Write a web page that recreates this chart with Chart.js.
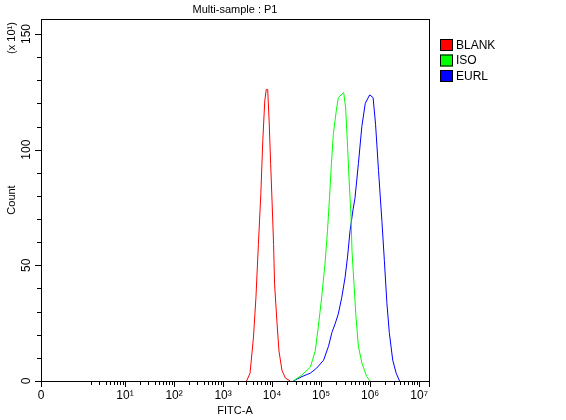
<!DOCTYPE html>
<html><head><meta charset="utf-8">
<script src="https://cdn.jsdelivr.net/npm/chart.js@4/dist/chart.umd.min.js"></script>
<style>html,body{margin:0;padding:0;background:#fff}</style>
</head><body>
<canvas id="c" width="566" height="420"></canvas>
<script>
const seriesNames = ['BLANK','ISO','EURL'];
const seriesColors = ['#ff0000','#00ff00','#0000ff'];
// x: log10(FITC-A), y: count (x10)
const blankX = [3.48,3.55,3.62,3.67,3.72,3.77,3.81,3.85,3.88,3.91,3.94,3.97,4.00,4.03,4.05,4.10,4.14,4.20,4.27,4.37];
const blankY = [0,3.4,19,36,59,81,104,121,126,126,112,94,77,59,42,25,13,4.7,1.3,0];
const isoX = [4.43,4.61,4.78,4.88,4.94,5.01,5.08,5.13,5.17,5.21,5.25,5.31,5.35,5.46,5.50,5.54,5.57,5.61,5.63,5.67,5.71,5.76,5.83,5.93,6.00];
const isoY = [0,2.6,6,13,23,36,51,65,79,94,107,117,122.5,124.7,118,101,87,71,56,42,28,15,7.8,1.9,0];
const eurlX = [4.43,4.61,4.78,4.91,5.05,5.15,5.22,5.29,5.35,5.42,5.49,5.54,5.59,5.65,5.69,5.76,5.83,5.90,5.99,6.06,6.11,6.17,6.24,6.29,6.34,6.39,6.46,6.53,6.60];
const eurlY = [0,1.9,3.4,5.6,9,15,21,25,29,36,45,54,65,74,79,94,110,120,123.7,122.5,111,91,69,52,34,21,9,3.4,0];
const xMajorValues = [-0.714,1,2,3,4,5,6,7];
const xMajorLabels = ['0','10¹','10²','10³','10⁴','10⁵','10⁶','10⁷'];
const yMajorValues = [0,50,100,150];
const yMajorLabels = ['0','50','100','150'];
const xMin = -0.714, xMax = 7.2, yMin = 0, yMax = 156.5;

const pts = (xs, ys) => xs.map((x,i)=>({x, y: ys[i]}));
const FONT = '"Liberation Sans", Arial, sans-serif';

const axesPlugin = {
  id: 'axes',
  afterDraw(chart) {
    const ctx = chart.ctx, a = chart.chartArea;
    const xs = chart.scales.x, ys = chart.scales.y;
    ctx.save();
    ctx.strokeStyle = '#000'; ctx.lineWidth = 1;
    ctx.strokeRect(Math.round(a.left)+0.5, Math.round(a.top)+0.5, Math.round(a.right-a.left), Math.round(a.bottom-a.top));
    ctx.beginPath();
    // x ticks
    const xt = (v, len) => { const p = Math.round(xs.getPixelForValue(v))+0.5; ctx.moveTo(p, a.bottom); ctx.lineTo(p, a.bottom+len); };
    xMajorValues.forEach(v => xt(v, 6));
    xt(xMax, 6);
    for (let d = 0; d <= 6; d++) for (let k = 2; k <= 9; k++) { const v = d + Math.log10(k); if (v > xMin + 0.05) xt(v, 4); }
    // y ticks
    for (let v = 0; v <= 150; v += 10) {
      const p = Math.round(ys.getPixelForValue(v))+0.5;
      ctx.moveTo(a.left, p); ctx.lineTo(a.left - (v % 50 === 0 ? 6 : 4), p);
    }
    ctx.stroke();
    ctx.fillStyle = '#000';
    ctx.font = '12px ' + FONT;
    ctx.textAlign = 'center'; ctx.textBaseline = 'top';
    xMajorValues.forEach((v,i) => ctx.fillText(xMajorLabels[i], xs.getPixelForValue(v), a.bottom + 9));
    xMajorValues.forEach((v,i) => {});
    // y labels rotated
    yMajorValues.forEach((v,i) => {
      ctx.save(); ctx.translate(a.left - 8, ys.getPixelForValue(v)); ctx.rotate(-Math.PI/2);
      ctx.textAlign = 'center'; ctx.textBaseline = 'bottom'; ctx.fillText(yMajorLabels[i], 0, 0); ctx.restore();
    });
    ctx.font = '11px ' + FONT;
    ctx.textBaseline = 'top';
    ctx.fillText('Multi-sample : P1', (a.left + a.right)/2, 4);
    ctx.fillText('FITC-A', (a.left + a.right)/2, 405);
    ctx.save(); ctx.translate(6, 200); ctx.rotate(-Math.PI/2); ctx.textAlign='center'; ctx.textBaseline='top'; ctx.fillText('Count', 0, 0); ctx.restore();
    ctx.save(); ctx.translate(6, 38); ctx.rotate(-Math.PI/2); ctx.textAlign='center'; ctx.textBaseline='top'; ctx.fillText('(x 10¹)', 0, 0); ctx.restore();
    // legend
    ctx.font = '12px ' + FONT; ctx.textAlign = 'left'; ctx.textBaseline = 'middle';
    chart.data.datasets.forEach((ds, i) => {
      const y = 39 + i * 15.5;
      ctx.fillStyle = ds.borderColor; ctx.fillRect(440, y, 13, 12);
      ctx.strokeStyle = '#000'; ctx.strokeRect(440.5, y+0.5, 12, 11);
      ctx.fillStyle = '#000'; ctx.fillText(ds.label, 456, y + 6.5);
    });
    ctx.restore();
  }
};

new Chart(document.getElementById('c'), {
  type: 'line',
  data: { datasets: [
    { label: seriesNames[0], data: pts(blankX, blankY), borderColor: seriesColors[0] },
    { label: seriesNames[1], data: pts(isoX, isoY), borderColor: seriesColors[1] },
    { label: seriesNames[2], data: pts(eurlX, eurlY), borderColor: seriesColors[2] }
  ]},
  options: {
    responsive: false, animation: false,
    layout: { padding: { left: 41, top: 19, right: 137, bottom: 39 } },
    elements: { point: { radius: 0 }, line: { borderWidth: 1, tension: 0 } },
    plugins: { legend: { display: false }, tooltip: { enabled: false } },
    scales: {
      x: { type: 'linear', min: xMin, max: xMax, display: false },
      y: { type: 'linear', min: yMin, max: yMax, display: false }
    }
  },
  plugins: [axesPlugin]
});
</script>
</body></html>
